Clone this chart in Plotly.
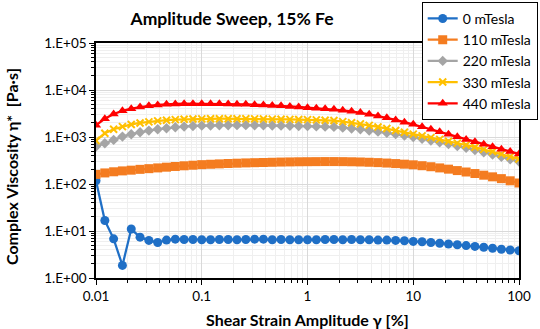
import plotly.graph_objects as go

# Shear strain amplitude gamma [%] (12 points per decade)
strain = [0.01, 0.01212, 0.01468, 0.01778, 0.02154, 0.0261, 0.03162, 0.03831, 0.04642, 0.05623, 0.06813, 0.08254,
          0.1, 0.1212, 0.1468, 0.1778, 0.2154, 0.261, 0.3162, 0.3831, 0.4642, 0.5623, 0.6813, 0.8254,
          1.0, 1.212, 1.468, 1.778, 2.154, 2.61, 3.162, 3.831, 4.642, 5.623, 6.813, 8.254,
          10.0, 12.12, 14.68, 17.78, 21.54, 26.1, 31.62, 38.31, 46.42, 56.23, 68.13, 82.54, 100.0]

eta_0 = [117, 16.7, 6.8, 1.85, 11.0, 7.4, 6.3, 5.7, 6.4, 6.7, 6.6, 6.6,
         6.5, 6.5, 6.6, 6.6, 6.5, 6.6, 6.7, 6.7, 6.5, 6.6, 6.5, 6.5,
         6.5, 6.5, 6.6, 6.6, 6.5, 6.6, 6.5, 6.5, 6.4, 6.4, 6.3, 6.2,
         6.0, 5.9, 5.7, 5.5, 5.3, 5.1, 4.9, 4.7, 4.5, 4.3, 4.1, 3.95, 3.8]

eta_110 = [160, 172, 182, 190, 197, 205, 212, 220, 228, 236, 244, 251,
           258, 263, 268, 273, 277, 281, 284, 287, 290, 293, 295, 297,
           298, 299, 300, 300, 299, 297, 294, 290, 285, 279, 272, 264,
           256, 245, 233, 220, 207, 193, 180, 167, 154, 142, 130, 117, 105]

eta_220 = [625, 736, 868, 1020, 1146, 1265, 1368, 1465, 1540, 1615, 1665, 1720,
           1745, 1760, 1775, 1780, 1785, 1785, 1780, 1770, 1760, 1745, 1730, 1715,
           1700, 1680, 1660, 1640, 1580, 1520, 1460, 1380, 1300, 1230, 1150, 1070,
           1000, 920, 845, 775, 710, 645, 590, 530, 475, 425, 380, 337, 300]

eta_330 = [840, 1200, 1460, 1660, 1850, 1990, 2100, 2200, 2280, 2340, 2380, 2410,
           2430, 2440, 2450, 2450, 2450, 2440, 2430, 2420, 2405, 2390, 2370, 2355,
           2340, 2310, 2280, 2240, 2120, 2010, 1905, 1765, 1635, 1515, 1380, 1260,
           1150, 1055, 970, 890, 810, 740, 675, 607, 545, 490, 433, 383, 340]

eta_440 = [1780, 2450, 3100, 3600, 4000, 4350, 4600, 4800, 5000, 5050, 5100, 5100,
           5100, 5100, 5080, 5050, 5000, 4950, 4880, 4800, 4700, 4600, 4480, 4350,
           4200, 4090, 4010, 3890, 3700, 3510, 3310, 3050, 2800, 2570, 2310, 2070,
           1860, 1650, 1460, 1290, 1140, 1010, 890, 790, 700, 620, 550, 490, 437]

series_names = ["0 mTesla", "110 mTesla", "220 mTesla", "330 mTesla", "440 mTesla"]

y_tickvals = [1, 10, 100, 1000, 10000, 100000]
y_ticktext = ["1.E+00", "1.E+01", "1.E+02", "1.E+03", "1.E+04", "1.E+05"]
x_tickvals = [0.01, 0.1, 1, 10, 100]
x_ticktext = ["0.01", "0.1", "1", "10", "100"]

FONT = "Lato, 'Open Sans', sans-serif"

styles = [
    dict(color="#1f6fc6", symbol="circle", size=9),
    dict(color="#f47c20", symbol="square", size=9),
    dict(color="#a5a5a5", symbol="diamond", size=8),
    dict(color="#ffc000", symbol="x-thin", size=7),
    dict(color="#ff0000", symbol="triangle-up", size=9),
]

fig = go.Figure()
for name, vals, st in zip(series_names, [eta_0, eta_110, eta_220, eta_330, eta_440], styles):
    marker = dict(color=st["color"], symbol=st["symbol"], size=st["size"])
    if st["symbol"] == "x-thin":
        marker["line"] = dict(color=st["color"], width=2)
    else:
        marker["line"] = dict(width=0)
    fig.add_trace(go.Scatter(
        x=strain, y=vals, name=name, mode="lines+markers",
        line=dict(color=st["color"], width=2.25),
        marker=marker, legendgroup=name,
    ))

minor_log = []
for d in range(-3, 6):
    for m in range(2, 10):
        minor_log.append(m * 10 ** d)

fig.update_layout(
    width=540, height=329,
    margin=dict(l=96, r=21, t=43, b=51, autoexpand=False),
    paper_bgcolor="white", plot_bgcolor="white",
    font=dict(family=FONT, size=13, color="black"),
    title=dict(text="<b>Amplitude Sweep, 15% Fe</b>", x=232 / 540, xanchor="center",
               y=1 - 19 / 329, yanchor="middle", font=dict(size=17.5, family=FONT, color="black")),
    showlegend=True,
    legend=dict(x=0.770, y=1.175, xanchor="left", yanchor="top",
                bgcolor="white", bordercolor="black", borderwidth=1,
                font=dict(size=14, family=FONT, color="black"),
                tracegroupgap=0, itemwidth=30),
    xaxis=dict(type="log", range=[-2, 2], tickmode="array", tickvals=x_tickvals, ticktext=x_ticktext,
               showline=True, linecolor="black", linewidth=1.5, mirror=True,
               ticks="outside", ticklen=5, tickcolor="black",
               showgrid=True, gridcolor="#d9d9d9", gridwidth=1, zeroline=False,
               minor=dict(tickmode="array", tickvals=minor_log, ticks="outside", ticklen=3,
                          tickcolor="black", showgrid=True, gridcolor="#efefef"),
               tickfont=dict(size=13.5, family=FONT, color="black")),
    yaxis=dict(type="log", range=[0, 5], tickmode="array", tickvals=y_tickvals, ticktext=y_ticktext,
               showline=True, linecolor="black", linewidth=1.5, mirror=True,
               ticks="outside", ticklen=5, tickcolor="black",
               showgrid=True, gridcolor="#d9d9d9", gridwidth=1, zeroline=False,
               minor=dict(tickmode="array", tickvals=minor_log, ticks="outside", ticklen=3,
                          tickcolor="black", showgrid=True, gridcolor="#efefef"),
               tickfont=dict(size=13.5, family=FONT, color="black")),
    annotations=[
        dict(text="<b>Shear Strain Amplitude γ [%]</b>", xref="paper", yref="paper",
             x=0.5, y=-(319 - 278) / 235, xanchor="center", yanchor="middle",
             showarrow=False, font=dict(size=16, family=FONT, color="black")),
        dict(text="<b>Complex Viscosity η*\u00a0 [Pa·s]</b>", xref="paper", yref="paper",
             x=-(96 - 11) / 423, y=(278 - 167) / 235, xanchor="center", yanchor="middle",
             textangle=-90, showarrow=False, font=dict(size=16, family=FONT, color="black")),
    ],
)

fig.write_html("out.html", config={"displayModeBar": False},
               post_script="document.body.style.margin='0';document.body.style.padding='0';")
